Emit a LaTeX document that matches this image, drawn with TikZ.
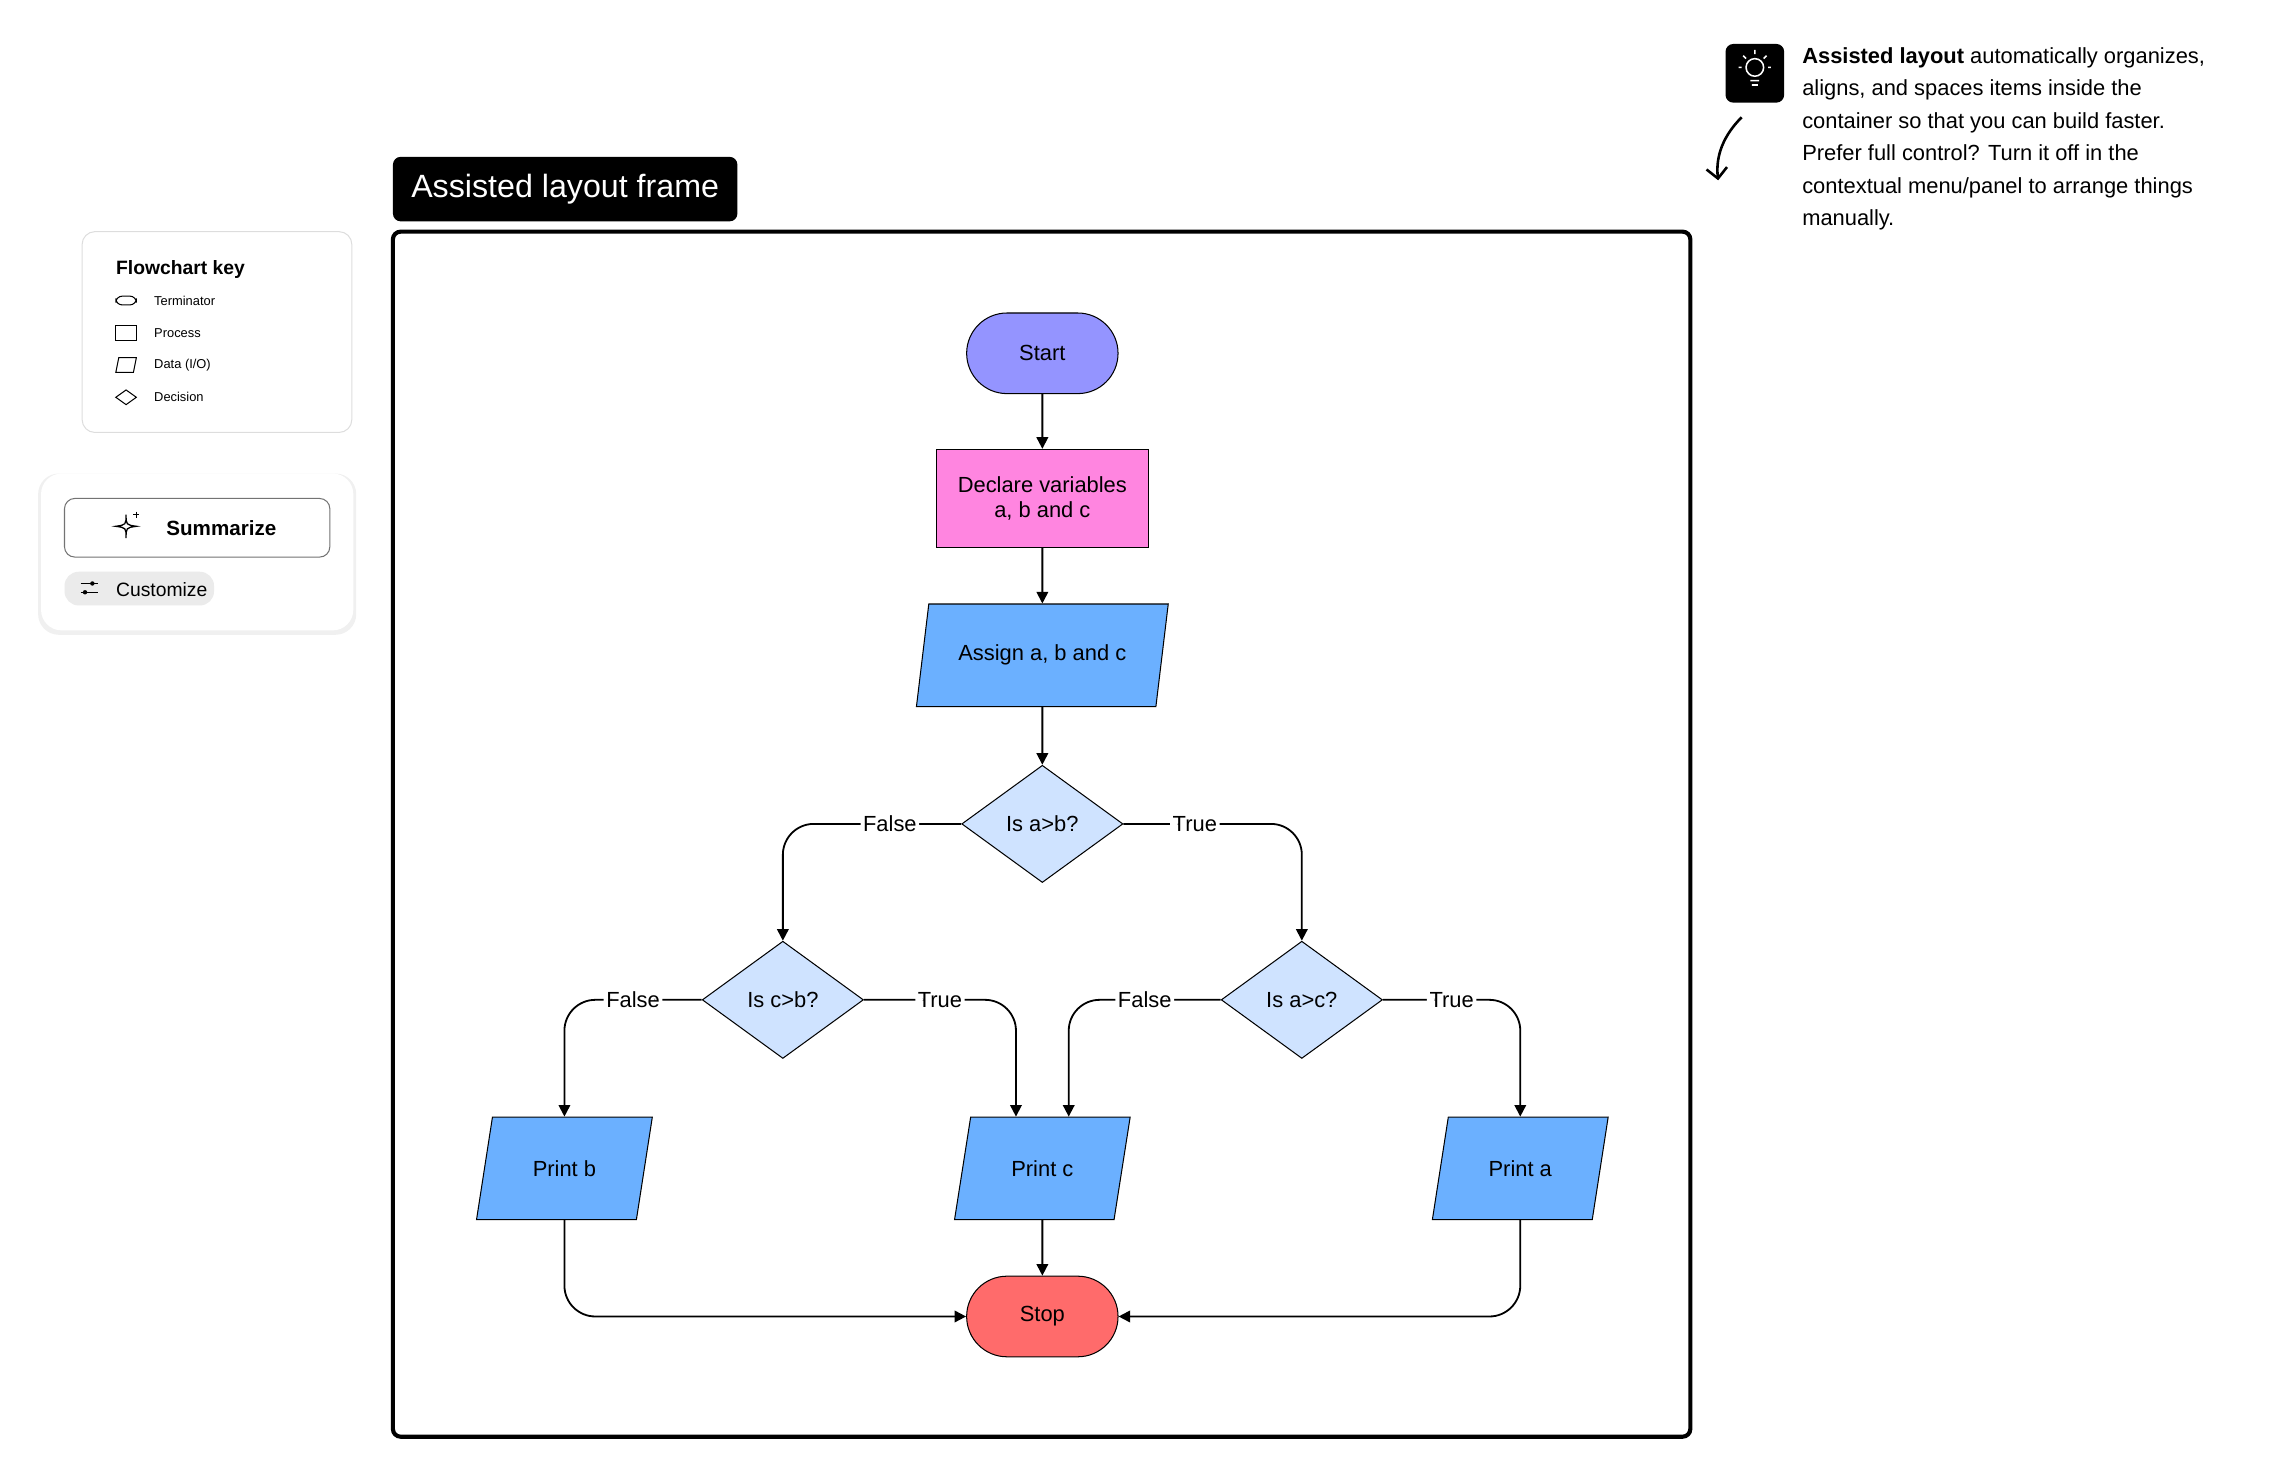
\documentclass[tikz,border=0pt]{standalone}
\usepackage{fontspec}
\setmainfont{Liberation Sans}
\usetikzlibrary{shapes.geometric,shapes.misc,arrows.meta}
\definecolor{startFill}{HTML}{9494FF}
\definecolor{declFill}{HTML}{FF85E0}
\definecolor{ioFill}{HTML}{6BB0FF}
\definecolor{decFill}{HTML}{CFE3FF}
\definecolor{stopFill}{HTML}{FF6B6B}
\definecolor{cardLine}{HTML}{DDDDDD}
\begin{document}
\begin{tikzpicture}[x=0.02cm,y=-0.02cm,%%
  lineStyle/.style={-{Triangle[length=4.5pt,width=4.5pt]},line width=0.7pt},%%
  edgeLabel/.style={fill=white,inner sep=1pt,font=\fontsize{8.5}{10}\selectfont},%%
  termStyle/.style={draw,rounded rectangle,minimum width=2.3cm,minimum height=1.1cm,font=\fontsize{8.5}{10}\selectfont},%%
  procStyle/.style={draw,rectangle,minimum width=2.9cm,minimum height=1.34cm,align=center,font=\fontsize{8.5}{10}\selectfont},%%
  ioStyle/.style={draw,trapezium,trapezium left angle=75,trapezium right angle=105,trapezium stretches=true,fill=ioFill,minimum height=1.4cm,font=\fontsize{8.5}{10}\selectfont},%%
  decStyle/.style={draw,diamond,aspect=1.375,minimum width=2.2cm,minimum height=1.6cm,fill=decFill,inner sep=0pt,font=\fontsize{8.5}{10}\selectfont},%%
  keyText/.style={anchor=west,font=\fontsize{5}{6}\selectfont}
]
\useasboundingbox (0,0) rectangle (1560,1003);
%%
%% The frame and its title.
\draw[line width=1.6pt,rounded corners=3pt] (268,158) rectangle (1153,980);
\node[fill=black,text=white,rounded corners=3pt,minimum width=4.7cm,minimum height=0.88cm,
  font=\fontsize{12.5}{14}\selectfont] (frameTitle) at (385.5,129) {Assisted layout frame};
%%
%% The flowchart nodes.
\node[termStyle,fill=startFill] (start) at (711,241) {Start};
\node[procStyle,fill=declFill] (declare) at (711,340) {Declare variables\\a, b and c};
\node[ioStyle,minimum width=3.45cm] (assign) at (711,447) {Assign a, b and c};
\node[decStyle] (ab) at (711,562) {Is a>b?};
\node[decStyle] (cb) at (534,682) {Is c>b?};
\node[decStyle] (ac) at (888,682) {Is a>c?};
\node[ioStyle,minimum width=2.4cm] (printB) at (385,797) {Print b};
\node[ioStyle,minimum width=2.4cm] (printC) at (711,797) {Print c};
\node[ioStyle,minimum width=2.4cm] (printA) at (1037,797) {Print a};
\node[termStyle,fill=stopFill] (stop) at (711,898) {Stop};
%%
%% The connectors.
\draw[lineStyle] (start) -- (declare);
\draw[lineStyle] (declare) -- (assign);
\draw[lineStyle] (assign) -- (ab);
\draw[lineStyle,rounded corners=12pt] (ab.west) -| node[edgeLabel,pos=0.2] {False} (cb.north);
\draw[lineStyle,rounded corners=12pt] (ab.east) -| node[edgeLabel,pos=0.2] {True} (ac.north);
\draw[lineStyle,rounded corners=12pt] (cb.west) -| node[edgeLabel,pos=0.25] {False} (printB.north);
\draw[lineStyle,rounded corners=12pt] (cb.east) -| node[edgeLabel,pos=0.25] {True} ([xshift=-0.36cm]printC.north);
\draw[lineStyle,rounded corners=12pt] (ac.west) -| node[edgeLabel,pos=0.25] {False} ([xshift=0.36cm]printC.north);
\draw[lineStyle,rounded corners=12pt] (ac.east) -| node[edgeLabel,pos=0.25] {True} (printA.north);
\draw[lineStyle] (printC) -- (stop);
\draw[lineStyle,rounded corners=12pt] (printB.south) |- (stop.west);
\draw[lineStyle,rounded corners=12pt] (printA.south) |- (stop.east);
%%
%% The flowchart key card.
\draw[cardLine,rounded corners=5pt] (56,158) rectangle (240,295);
\node[anchor=west,font=\bfseries\fontsize{7.5}{9}\selectfont] (keyTitle) at (73,184) {Flowchart key};
\draw[line width=0.4pt,rounded corners=2.5pt] (79,202) rectangle (93,208);
\draw[line width=0.4pt] (79,222) rectangle (93,232);
\draw[line width=0.4pt] (81,244) -- (93,244) -- (91,254) -- (79,254) -- cycle;
\draw[line width=0.4pt] (86,266) -- (93,271) -- (86,276) -- (79,271) -- cycle;
\node[keyText] (keyTerm) at (99,205) {Terminator};
\node[keyText] (keyProc) at (99,227) {Process};
\node[keyText] (keyData) at (99,249) {Data (I/O)};
\node[keyText] (keyDec) at (99,271) {Decision};
%%
%% The summarize card.
\fill[black!6,rounded corners=8pt] (26,323) rectangle (243,433);
\fill[white,rounded corners=8pt] (28,323) rectangle (241,430);
\draw[black!55,rounded corners=4pt] (44,340) rectangle (225,380);
\draw[line width=0.5pt] (86,351) .. controls (86,358) .. (93,359) .. controls (86,360) .. (86,367)
  .. controls (86,360) .. (79,359) .. controls (86,358) .. (86,351);
\draw[line width=0.4pt] (93,349) -- (93,353) (91,351) -- (95,351);
\node[font=\bfseries\fontsize{8}{10}\selectfont] (summarize) at (151,360) {Summarize};
\fill[black!8,rounded corners=5.5pt] (44,390) rectangle (146,413);
\draw[line width=0.4pt] (55,398) -- (67,398) (55,404) -- (67,404);
\fill (63,398) circle (1.5) (58,404) circle (1.5);
\node[anchor=west,font=\fontsize{7.5}{9}\selectfont] (customize) at (73,402) {Customize};
%%
%% The note with its bulb icon.
\fill[black,rounded corners=3pt] (1177,30) rectangle (1217,70);
\draw[white,line width=0.6pt] (1197,46) circle (6) (1194,55) -- (1200,55) (1195,58) -- (1199,58)
  (1197,34) -- (1197,37) (1186,46) -- (1188,46) (1206,46) -- (1208,46)
  (1189,38) -- (1191,40) (1205,38) -- (1203,40);
\node[anchor=north west,align=left,inner sep=0pt,font=\fontsize{8.5}{12.6}\selectfont] (note) at (1229,32)
  {\textbf{Assisted layout} automatically organizes,\\aligns, and spaces items inside the\\container so that you can build faster.\\Prefer full control? Turn it off in the\\contextual menu/panel to arrange things\\manually.};
\coordinate (curlStart) at (1188,80);
\coordinate (curlEnd) at (1172,123);
\draw[-{Straight Barb[length=4pt]},line width=1pt] (curlStart) .. controls (1176,92) and (1170,106) .. (curlEnd);
\end{tikzpicture}
\end{document}
